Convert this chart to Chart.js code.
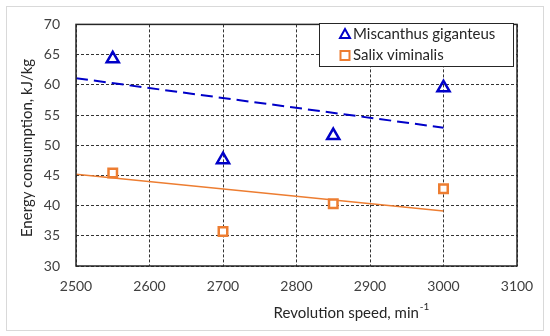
<!DOCTYPE html>
<html>
<head>
<meta charset="utf-8">
<script src="https://cdn.jsdelivr.net/npm/chart.js@4/dist/chart.umd.min.js"></script>
<style>
    html, body { margin: 0; padding: 0; background: #fff; }
    #wrap { width: 550px; height: 336px; }
</style>
</head>
<body>
<div id="wrap"><canvas id="chart"></canvas></div>
<script>
    var speeds = [2550, 2700, 2850, 3000];
    var miscanthus = [64.3, 47.6, 51.6, 59.5];
    var salix = [45.4, 35.7, 40.3, 42.8];

    var trendSpeeds = [2500, 3000];
    var miscanthusTrend = [61.1, 52.9];
    var salixTrend = [45.2, 39.1];

    var xTicks = [2500, 2600, 2700, 2800, 2900, 3000, 3100];
    var yTicks = [30, 35, 40, 45, 50, 55, 60, 65, 70];

    var xTitle = 'Revolution speed, min';
    var xTitleSup = '-1';
    var yTitle = 'Energy consumption, kJ/kg';

    var blue = '#0000c8';
    var orange = '#ed7d31';
    var textColor = '#262626';
    var fontName = 'Lato, "Open Sans", sans-serif';

    function toPoints(xs, ys) {
        var points = [];
        for (var i = 0; i < xs.length; i++) {
            points.push({ x: xs[i], y: ys[i] });
        }
        return points;
    }

    var framePlugin = {
        id: 'frame',
        beforeDraw: function (chart) {
            var ctx = chart.ctx;
            ctx.save();
            ctx.strokeStyle = '#d9d9d9';
            ctx.lineWidth = 1;
            ctx.strokeRect(6.5, 6.5, 537, 324);
            ctx.restore();
        },
        afterDatasetsDraw: function (chart) {
            var ctx = chart.ctx;
            var a = chart.chartArea;
            ctx.save();
            ctx.strokeStyle = '#262626';
            ctx.lineWidth = 1.5;
            ctx.strokeRect(a.left, a.top, a.right - a.left, a.bottom - a.top);

            // x axis title, sits right of centre like the original
            ctx.fillStyle = textColor;
            ctx.textBaseline = 'middle';
            ctx.textAlign = 'left';
            ctx.font = '15px ' + fontName;
            var w1 = ctx.measureText(xTitle).width;
            ctx.font = '10px ' + fontName;
            var w2 = ctx.measureText(xTitleSup).width;
            var start = 351 - (w1 + w2) / 2;
            ctx.font = '15px ' + fontName;
            ctx.fillText(xTitle, start, 313);
            ctx.font = '10px ' + fontName;
            ctx.fillText(xTitleSup, start + w1 + 1, 307);

            // y axis title
            ctx.save();
            ctx.translate(27, 148);
            ctx.rotate(-Math.PI / 2);
            ctx.textAlign = 'center';
            ctx.font = '15px ' + fontName;
            ctx.fillText(yTitle, 0, 0);
            ctx.restore();

            // legend box
            var lx = 319, ly = 23, lw = 194, lh = 43;
            ctx.fillStyle = '#fff';
            ctx.fillRect(lx, ly, lw, lh);
            ctx.strokeStyle = '#262626';
            ctx.lineWidth = 1;
            ctx.strokeRect(lx + 0.5, ly + 0.5, lw, lh);

            for (var i = 0; i < 2; i++) {
                var ds = chart.data.datasets[i];
                var cy = 34 + i * 21.5;
                var cx = 345;
                ctx.strokeStyle = ds.borderColor;
                ctx.lineWidth = 2;
                ctx.beginPath();
                if (ds.pointStyle === 'triangle') {
                    ctx.moveTo(cx, cy - 5);
                    ctx.lineTo(cx + 5, cy + 4);
                    ctx.lineTo(cx - 5, cy + 4);
                    ctx.closePath();
                } else {
                    ctx.rect(cx - 4.5, cy - 4.5, 9, 9);
                }
                ctx.stroke();
                ctx.fillStyle = textColor;
                ctx.font = '15px ' + fontName;
                ctx.textAlign = 'left';
                ctx.fillText(ds.label, 353, cy);
            }
            ctx.restore();
        }
    };

    new Chart(document.getElementById('chart'), {
        type: 'scatter',
        data: {
            datasets: [{
                label: 'Miscanthus giganteus',
                data: toPoints(speeds, miscanthus),
                pointStyle: 'triangle',
                pointRadius: 7,
                pointBorderWidth: 2.5,
                borderColor: blue,
                backgroundColor: 'rgba(0,0,0,0)',
                order: 1
            }, {
                label: 'Salix viminalis',
                data: toPoints(speeds, salix),
                pointStyle: 'rect',
                pointRadius: 6,
                pointBorderWidth: 2.5,
                borderColor: orange,
                backgroundColor: '#fff',
                order: 1
            }, {
                label: 'Miscanthus trend',
                data: toPoints(trendSpeeds, miscanthusTrend),
                showLine: true,
                borderColor: blue,
                borderWidth: 2,
                borderDash: [12, 6],
                pointRadius: 0,
                order: 2
            }, {
                label: 'Salix trend',
                data: toPoints(trendSpeeds, salixTrend),
                showLine: true,
                borderColor: orange,
                borderWidth: 1.5,
                pointRadius: 0,
                order: 2
            }]
        },
        options: {
            responsive: true,
            maintainAspectRatio: false,
            animation: false,
            layout: { padding: { left: 6, top: 16, right: 33, bottom: 0 } },
            plugins: {
                legend: { display: false },
                tooltip: { enabled: false }
            },
            scales: {
                x: {
                    type: 'linear',
                    min: 2500,
                    max: 3100,
                    afterBuildTicks: function (axis) {
                        axis.ticks = xTicks.map(function (v) { return { value: v }; });
                    },
                    afterFit: function (axis) { axis.height = 70; },
                    grid: { color: '#333', lineWidth: 1, drawTicks: false },
                    border: { dash: [3, 2], display: false },
                    ticks: {
                        color: '#404040',
                        padding: 12,
                        font: { family: fontName, size: 14 },
                        callback: function (value) { return String(value); }
                    }
                },
                y: {
                    min: 30,
                    max: 70,
                    afterBuildTicks: function (axis) {
                        axis.ticks = yTicks.map(function (v) { return { value: v }; });
                    },
                    afterFit: function (axis) { axis.width = 70; },
                    grid: { color: '#333', lineWidth: 1, drawTicks: false },
                    border: { dash: [3, 2], display: false },
                    ticks: {
                        color: '#404040',
                        padding: 16,
                        font: { family: fontName, size: 14 },
                        callback: function (value) { return String(value); }
                    }
                }
            }
        },
        plugins: [framePlugin]
    });
</script>
</body>
</html>
